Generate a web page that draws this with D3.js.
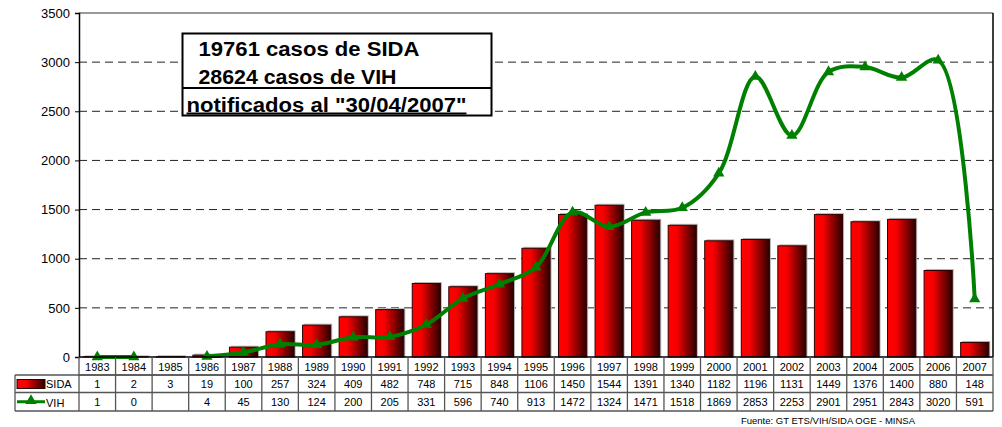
<!DOCTYPE html>
<html>
<head>
<meta charset="utf-8">
<script src="https://cdn.jsdelivr.net/npm/d3@7"></script>
<style>
  html, body { margin: 0; padding: 0; background: #fff; }
  svg { display: block; font-family: "Liberation Sans", Arial, sans-serif; }
</style>
</head>
<body>
<svg id="chart" width="1002" height="427"></svg>
<script>
// Casos notificados por año
const years = ["1983","1984","1985","1986","1987","1988","1989","1990","1991","1992","1993","1994","1995","1996","1997","1998","1999","2000","2001","2002","2003","2004","2005","2006","2007"];
const sida = [1,2,3,19,100,257,324,409,482,748,715,848,1106,1450,1544,1391,1340,1182,1196,1131,1449,1376,1400,880,148];
const vih = [1,0,null,4,45,130,124,200,205,331,596,740,913,1472,1324,1471,1518,1869,2853,2253,2901,2951,2843,3020,591];
const yTicks = [0,500,1000,1500,2000,2500,3000,3500];
const summaryLines = ["19761 casos de SIDA", "28624 casos de VIH", "notificados al \"30/04/2007\""];
const source = "Fuente: GT ETS/VIH/SIDA OGE - MINSA";

const svg = d3.select("#chart");
const plotLeft = 79, plotRight = 993, plotTop = 13, plotBottom = 357;
const rowH = [18, 17.5, 18.5];

const x = d3.scaleBand().domain(years).range([plotLeft, plotRight]).paddingInner(0).paddingOuter(0);
const y = d3.scaleLinear().domain([0, 3500]).range([plotBottom, plotTop]);

// gradient for bars
const defs = svg.append("defs");
const grad = defs.append("linearGradient").attr("id", "barGrad").attr("x1", "0").attr("x2", "1").attr("y1", "0").attr("y2", "0");
grad.append("stop").attr("offset", "0%").attr("stop-color", "#ff0000");
grad.append("stop").attr("offset", "30%").attr("stop-color", "#f80000");
grad.append("stop").attr("offset", "100%").attr("stop-color", "#2a0000");

// gridlines
svg.append("g").selectAll("line").data(yTicks.filter(t => t > 0 && t < 3500)).join("line")
  .attr("x1", plotLeft).attr("x2", plotRight)
  .attr("y1", d => y(d)).attr("y2", d => y(d))
  .attr("stroke", "#222").attr("stroke-width", 1).attr("stroke-dasharray", "8,5");
svg.append("line").attr("x1", plotLeft).attr("x2", plotRight).attr("y1", y(3500)).attr("y2", y(3500))
  .attr("stroke", "#777").attr("stroke-width", 1.5);
svg.append("line").attr("x1", plotRight).attr("x2", plotRight).attr("y1", y(3500)).attr("y2", plotBottom)
  .attr("stroke", "#000").attr("stroke-width", 1.5);

// y axis
const yAxis = d3.axisLeft(y).tickValues(yTicks).tickSize(4).tickPadding(5).tickFormat(d3.format("d"));
const ga = svg.append("g").attr("transform", `translate(${plotLeft},0)`).call(yAxis);
ga.select(".domain").attr("stroke", "#000").attr("stroke-width", 1.5);
ga.selectAll(".tick line").attr("stroke", "#000");
ga.selectAll(".tick text").attr("font-size", 13).attr("fill", "#000").attr("font-family", "Liberation Sans, Arial, sans-serif");

// bars with a soft gray shadow up and to the right
const bw = x.bandwidth() * 0.77;
const bars = svg.append("g");
bars.selectAll("rect.shadow").data(years).join("rect").attr("class", "shadow")
  .attr("x", d => x(d) + (x.bandwidth() - bw) / 2 + 1.5)
  .attr("y", (d, i) => y(sida[i]) - 1.5)
  .attr("width", bw).attr("height", (d, i) => plotBottom - y(sida[i]) + 1.5)
  .attr("fill", "#b8b8b8");
bars.selectAll("rect.bar").data(years).join("rect").attr("class", "bar")
  .attr("x", d => x(d) + (x.bandwidth() - bw) / 2)
  .attr("y", (d, i) => y(sida[i]))
  .attr("width", bw).attr("height", (d, i) => plotBottom - y(sida[i]))
  .attr("fill", "url(#barGrad)").attr("stroke", "#300000").attr("stroke-width", 1);

// VIH line
const pts = years.map((d, i) => ({ year: d, v: vih[i] }));
const line = d3.line()
  .defined(d => d.v !== null)
  .x(d => x(d.year) + x.bandwidth() / 2)
  .y(d => y(d.v))
  .curve(d3.curveCatmullRom.alpha(0.5));
svg.append("path").datum(pts).attr("d", line)
  .attr("fill", "none").attr("stroke", "#008000").attr("stroke-width", 4).attr("stroke-linejoin", "round");
const tri = d3.symbol().type(d3.symbolTriangle).size(55);
svg.append("g").selectAll("path").data(pts.filter(d => d.v !== null)).join("path")
  .attr("d", tri)
  .attr("transform", d => `translate(${x(d.year) + x.bandwidth() / 2},${y(d.v)})`)
  .attr("fill", "#008000");

// x axis line
svg.append("line").attr("x1", plotLeft).attr("x2", plotRight).attr("y1", plotBottom).attr("y2", plotBottom)
  .attr("stroke", "#000").attr("stroke-width", 1.5);

// data table
const legendLeft = 15;
const r0 = plotBottom, r1 = r0 + rowH[0], r2 = r1 + rowH[1], r3 = r2 + rowH[2];
const table = svg.append("g");
const gridColor = "#555";
[[plotLeft, r1], [legendLeft, r1], [legendLeft, r2], [legendLeft, r3]].forEach(([x0, yy]) => {
  table.append("line").attr("x1", x0).attr("x2", plotRight).attr("y1", yy).attr("y2", yy)
    .attr("stroke", gridColor).attr("stroke-width", 1.3);
});
const vlines = years.map(d => x(d)).concat([plotRight]);
table.selectAll("line.v").data(vlines).join("line").attr("class", "v")
  .attr("x1", d => d).attr("x2", d => d).attr("y1", r0).attr("y2", r3)
  .attr("stroke", gridColor).attr("stroke-width", 1.3);
table.append("line").attr("x1", legendLeft).attr("x2", legendLeft).attr("y1", r1).attr("y2", r3)
  .attr("stroke", gridColor).attr("stroke-width", 1.3);

const cellText = (vals, cy) => table.append("g").selectAll("text").data(years).join("text")
  .attr("x", d => x(d) + x.bandwidth() / 2).attr("y", cy)
  .attr("text-anchor", "middle").attr("dominant-baseline", "central")
  .attr("font-size", 11).attr("fill", "#000")
  .text((d, i) => vals[i] === null ? "" : vals[i]);
cellText(years, (r0 + r1) / 2 + 1);
cellText(sida, (r1 + r2) / 2);
cellText(vih, (r2 + r3) / 2);

// legend keys in the table
table.append("rect").attr("x", 17).attr("y", r1 + 4.5).attr("width", 28).attr("height", 9)
  .attr("fill", "url(#barGrad)").attr("stroke", "#300000").attr("stroke-width", 1);
table.append("text").attr("x", 46).attr("y", (r1 + r2) / 2).attr("dominant-baseline", "central")
  .attr("font-size", 11).text("SIDA");
table.append("line").attr("x1", 17).attr("x2", 45).attr("y1", (r2 + r3) / 2).attr("y2", (r2 + r3) / 2)
  .attr("stroke", "#008000").attr("stroke-width", 3);
table.append("path").attr("d", tri).attr("transform", `translate(31,${(r2 + r3) / 2 - 1})`).attr("fill", "#008000");
table.append("text").attr("x", 46).attr("y", (r2 + r3) / 2 + 1).attr("dominant-baseline", "central")
  .attr("font-size", 11).text("VIH");

// source note
svg.append("text").attr("x", 828).attr("y", 424).attr("text-anchor", "middle")
  .attr("font-size", 9.5).attr("fill", "#000").text(source);

// summary box
const box = svg.append("g");
box.append("rect").attr("x", 182.5).attr("y", 33.5).attr("width", 309).attr("height", 82)
  .attr("fill", "#fff").attr("stroke", "#000").attr("stroke-width", 2);
box.append("line").attr("x1", 182.5).attr("x2", 491.5).attr("y1", 88).attr("y2", 88)
  .attr("stroke", "#000").attr("stroke-width", 2);
const boxText = (str, tx, ty, len) => box.append("text").attr("x", tx).attr("y", ty)
  .attr("font-size", 20).attr("font-weight", "bold")
  .attr("textLength", len).attr("lengthAdjust", "spacingAndGlyphs").text(str);
boxText(summaryLines[0], 198.5, 56, 221);
boxText(summaryLines[1], 198.5, 84, 198);
boxText(summaryLines[2], 186.5, 111.5, 280).attr("text-decoration", "underline");
</script>
</body>
</html>
